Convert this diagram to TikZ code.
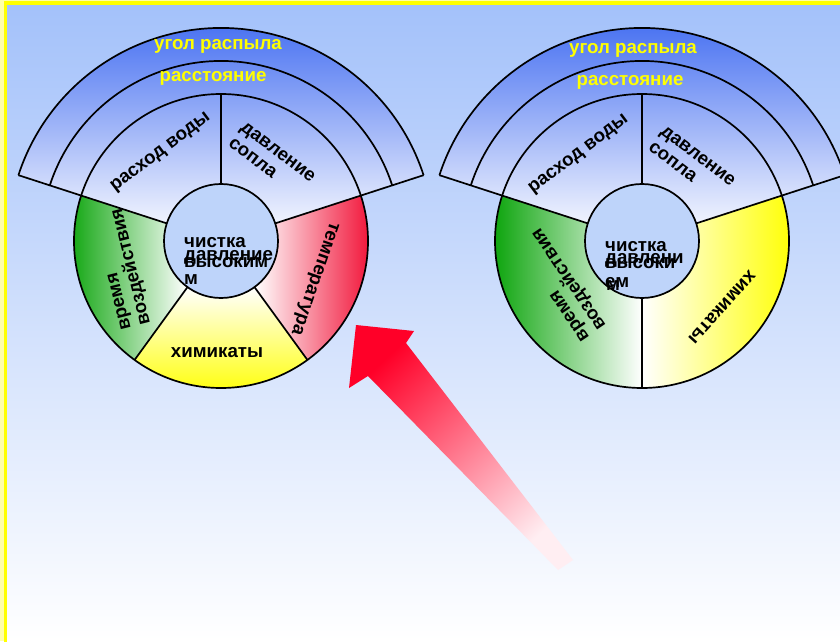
\documentclass[tikz,border=0pt]{standalone}
\usepackage{fontspec}
\setmainfont{Liberation Sans}
\usetikzlibrary{calc}

\definecolor{bgtop}{RGB}{163,193,250}
\definecolor{paleyellow}{RGB}{255,255,170}
\definecolor{frameyellow}{RGB}{255,255,0}
\definecolor{fantop}{RGB}{55,100,240}
\definecolor{innerblue}{RGB}{190,212,250}
\definecolor{secgreen}{RGB}{0,160,0}
\definecolor{secyellow}{RGB}{255,255,0}
\definecolor{secred}{RGB}{240,0,40}
\definecolor{ringtext}{RGB}{255,255,0}
\definecolor{arrowred}{RGB}{255,0,40}
\definecolor{arrowpale}{RGB}{255,238,242}

% annular sector: #1 inner radius, #2 outer radius, #3 start angle, #4 end angle
\newcommand\annsector[4]{(#3:#1) -- (#3:#2) arc[start angle=#3, end angle=#4, radius=#2] -- (#4:#1) arc[start angle=#4, end angle=#3, radius=#1] -- cycle}

\begin{document}
\begin{tikzpicture}[x=1pt,y=1pt,
  lbl/.style={inner sep=0pt, font=\bfseries\fontsize{18.7}{20}\selectfont},
  ringlbl/.style={lbl, text=ringtext},
  outline/.style={draw=black, line width=1.7pt, line join=round}]
\useasboundingbox (0,0) rectangle (840,641);
\clip (0,0) rectangle (840,641);

% background and frame
\shade[top color=bgtop, bottom color=white] (0,0) rectangle (840,641);
\fill[paleyellow] (0,0) rectangle (4,641);
\fill[paleyellow] (0,640) rectangle (840,641);
\draw[frameyellow, line width=3.2pt] (5.4,-10) -- (5.4,638) -- (850,638);

% ---------- left wheel ----------
\begin{scope}[shift={(221,400)}]
  \shade[top color=fantop, bottom color=white] (0,0) -- (18:213) arc[start angle=18, end angle=162, radius=213] -- cycle;
  \shade[left color=secgreen, right color=white] \annsector{57}{147}{162}{234};
  \shade[top color=white, bottom color=secyellow] \annsector{57}{147}{234}{306};
  \shade[left color=white, right color=secred] \annsector{57}{147}{306}{378};
  \draw[outline] (18:213) arc[start angle=18, end angle=162, radius=213];
  \draw[outline] (18:180) arc[start angle=18, end angle=162, radius=180];
  \draw[outline] (0,0) circle[radius=147];
  \draw[outline] (18:57) -- (18:213) (162:57) -- (162:213) (90:57) -- (90:147)
                 (234:57) -- (234:147) (306:57) -- (306:147);
  \filldraw[outline, fill=innerblue] (0,0) circle[radius=57];
\end{scope}

\node[ringlbl, anchor=base] (lAngle) at (218,591) {угол распыла};
\node[ringlbl, anchor=base] (lDist) at (213,559) {расстояние};
\node[lbl, rotate=37] (lFlow) at (161,488) {расход воды};
\node[lbl, rotate=-37, align=left] (lNozzle) at (272,481) {давление\\сопла};
\node[lbl, rotate=104, align=left] (lTime) at (123,372) {время\\воздействия};
\node[lbl, rotate=-109] (lTemp) at (314,363) {температура};
\node[lbl, anchor=base] (lChem) at (217,284) {химикаты};
\node[lbl, anchor=base west] (lC1) at (184,394) {чистка};
\node[lbl, anchor=base west] (lC2) at (184,381) {давление};
\node[lbl, anchor=base west] (lC3) at (184,374) {высоким};
\node[lbl, anchor=base west] (lC4) at (184,357) {м};

% ---------- right wheel ----------
\begin{scope}[shift={(642,400)}]
  \shade[top color=fantop, bottom color=white] (0,0) -- (18:213) arc[start angle=18, end angle=162, radius=213] -- cycle;
  \shade[left color=secgreen, right color=white] \annsector{57}{147}{162}{270};
  \shade[left color=white, right color=secyellow] \annsector{57}{147}{270}{378};
  \draw[outline] (18:213) arc[start angle=18, end angle=162, radius=213];
  \draw[outline] (18:180) arc[start angle=18, end angle=162, radius=180];
  \draw[outline] (0,0) circle[radius=147];
  \draw[outline] (18:57) -- (18:213) (162:57) -- (162:213) (90:57) -- (90:147)
                 (270:57) -- (270:147);
  \filldraw[outline, fill=innerblue] (0,0) circle[radius=57];
\end{scope}

\node[ringlbl, anchor=base] (rAngle) at (633,587) {угол распыла};
\node[ringlbl, anchor=base] (rDist) at (630,555) {расстояние};
\node[lbl, rotate=37] (rFlow) at (579,486) {расход воды};
\node[lbl, rotate=-37, align=left] (rNozzle) at (692,477) {давление\\сопла};
\node[lbl, rotate=124, align=left] (rTime) at (562,357) {время\\воздействия};
\node[lbl, rotate=228] (rChem) at (722,334) {химикаты};
\node[lbl, anchor=base west] (rC1) at (605,390) {чистка};
\node[lbl, anchor=base west] (rC2) at (605,378) {давлени};
\node[lbl, anchor=base west] (rC3) at (605,373) {высоки};
\node[lbl, anchor=base west] (rC4) at (605,354) {ем};
\node[lbl, anchor=base west] (rC5) at (606,351) {м};

% ---------- arrow ----------
\shade[top color=arrowred, bottom color=arrowpale, shading angle=43]
  (356,316) -- (414,310) -- (406,298) -- (573,81) -- (558,71) -- (368,265) -- (349,253) -- cycle;
\end{tikzpicture}
\end{document}
